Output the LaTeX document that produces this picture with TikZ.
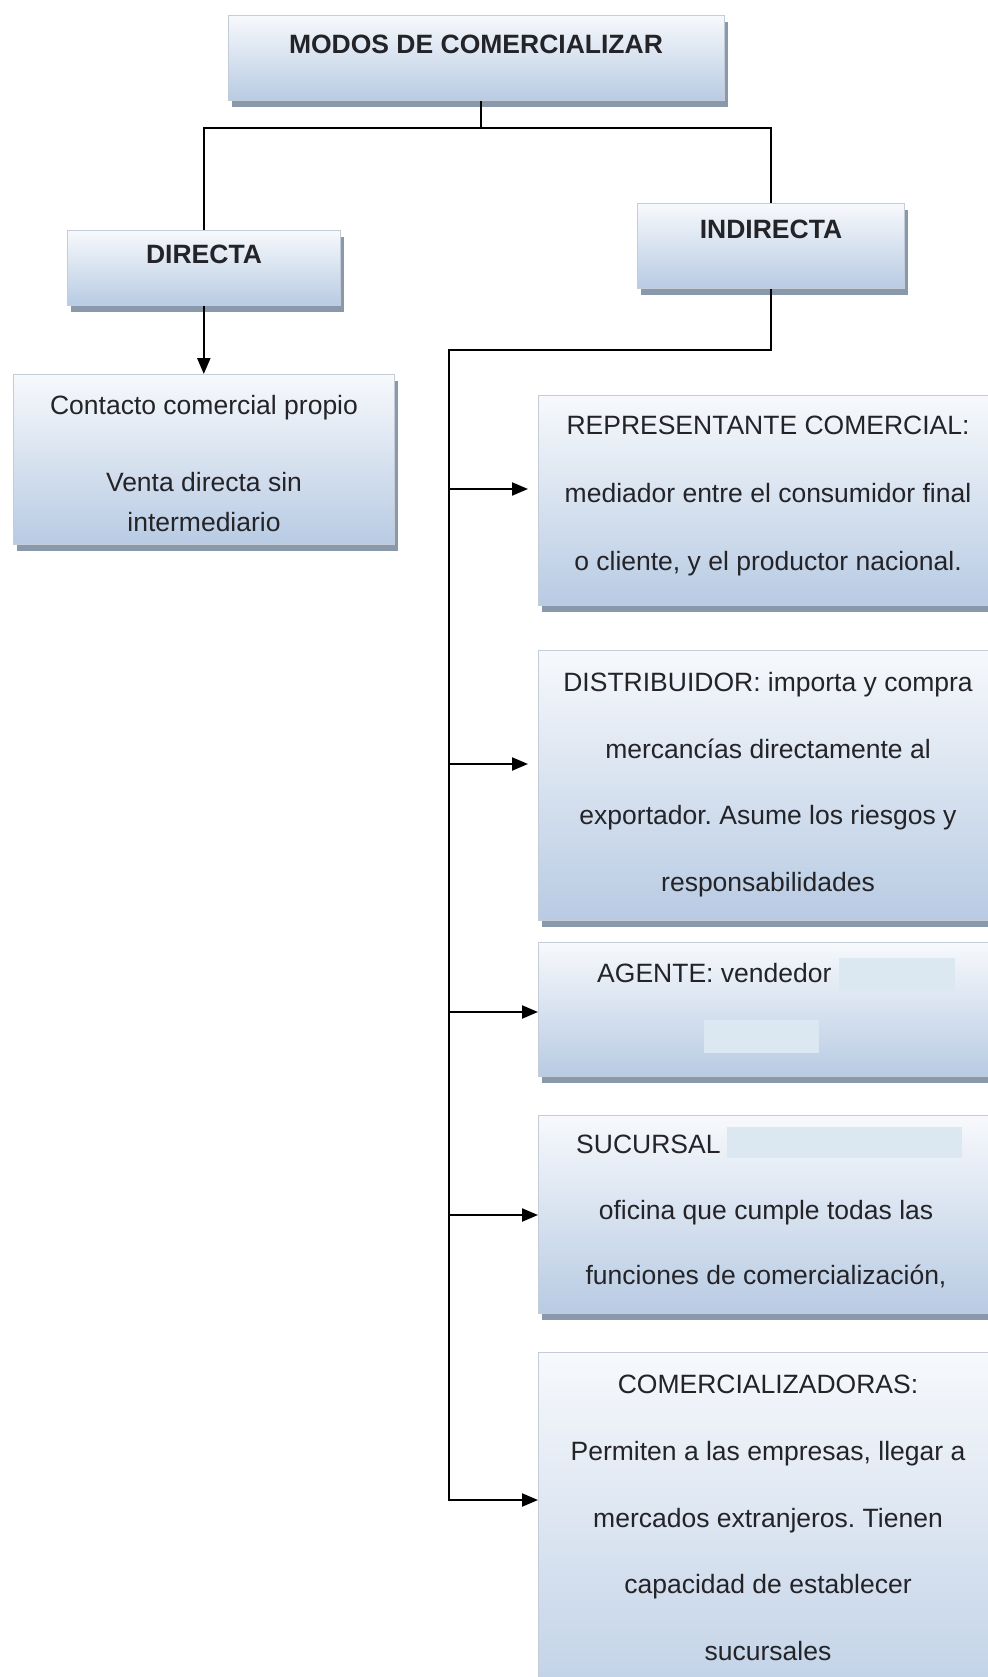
\documentclass[tikz,border=0pt]{standalone}
\usepackage{fontspec}
\setmainfont{Liberation Sans}
\usetikzlibrary{arrows.meta,shadows}

\definecolor{boxtop}{RGB}{247,249,252}
\definecolor{boxbot}{RGB}{184,203,227}
\definecolor{boxshadow}{RGB}{138,152,172}
\definecolor{boxedge}{RGB}{196,204,216}
\definecolor{veilcol}{RGB}{219,231,241}
\definecolor{ink}{RGB}{35,35,40}

\tikzset{
  panel/.style={rectangle, inner sep=0pt, anchor=north west,
    top color=boxtop, bottom color=boxbot, draw=boxedge, line width=0.6pt,
    general shadow={fill=boxshadow, shadow xshift=4pt, shadow yshift=-7pt}},
  caption/.style={inner sep=0pt, anchor=north, align=center, text=ink,
    font=\fontsize{26.5}{66.7}\selectfont},
  heading/.style={caption, font=\fontsize{26.5}{32}\selectfont\bfseries},
  link/.style={draw=black, line width=2.2pt},
  feed/.style={link, -{Triangle[length=16pt,width=13pt]}},
  veil/.style={rectangle, inner sep=0pt, anchor=north west, fill=veilcol, draw=none}
}

\begin{document}
\frenchspacing
\begin{tikzpicture}[x=1pt, y=-1pt]
  \useasboundingbox[fill=white] (0,0) rectangle (987,1677);

  % top level
  \node[panel, minimum width=496pt, minimum height=85pt] (modos) at (228,15) {};
  \node[heading] (modos-t) at (476,35) {MODOS DE COMERCIALIZAR};

  % the two modes
  \node[panel, minimum width=273pt, minimum height=75pt] (dirc) at (67,230) {};
  \node[heading] (dirc-t) at (204,245) {DIRECTA};
  \node[panel, minimum width=267pt, minimum height=85pt] (indc) at (637,203) {};
  \node[heading] (indc-t) at (771,220) {INDIRECTA};

  % direct sale
  \node[panel, minimum width=381pt, minimum height=170pt] (cont) at (13,374) {};
  \node[caption, font=\fontsize{26.5}{40}\selectfont] (cont-t) at (204,395)
    {Contacto comercial propio\\[37pt]Venta directa sin\\intermediario};

  % indirect channels
  \node[panel, minimum width=460pt, minimum height=210pt] (rep) at (538,395) {};
  \node[caption, font=\fontsize{26.5}{68}\selectfont] (rep-t) at (768,416)
    {REPRESENTANTE COMERCIAL:\\mediador entre el consumidor final\\o cliente, y el productor nacional.};

  \node[panel, minimum width=460pt, minimum height=270pt] (dist) at (538,650) {};
  \node[caption] (dist-t) at (768,672)
    {DISTRIBUIDOR: importa y compra\\mercancías directamente al\\exportador. Asume los riesgos y\\responsabilidades};

  \node[panel, minimum width=460pt, minimum height=134pt] (agen) at (538,942) {};
  \node[caption, anchor=north west] (agen-t) at (597,963) {AGENTE: vendedor};
  \node[veil, minimum width=116pt, minimum height=33pt] (agen-v1) at (839,958) {};
  \node[veil, minimum width=115pt, minimum height=33pt] (agen-v2) at (704,1020) {};

  \node[panel, minimum width=460pt, minimum height=198pt] (sucu) at (538,1115) {};
  \node[caption, anchor=north west] (sucu-t) at (576,1135) {SUCURSAL};
  \node[veil, minimum width=235pt, minimum height=31pt] (sucu-v) at (727,1127) {};
  \node[caption, font=\fontsize{26.5}{65}\selectfont] (sucu-d) at (766,1200)
    {oficina que cumple todas las\\funciones de comercialización,};

  \node[panel, minimum width=460pt, minimum height=400pt] (comm) at (538,1352) {};
  \node[caption] (comm-t) at (768,1375)
    {COMERCIALIZADORAS:\\Permiten a las empresas, llegar a\\mercados extranjeros. Tienen\\capacidad de establecer\\sucursales};

  % connectors
  \coordinate (split) at (481,128);
  \draw[link] (modos.south -| split) -- (split);
  \draw[link] (dirc.north) |- (split) -| (indc.north);
  \draw[feed] (dirc.south) -- (cont.north);

  \coordinate (elbow) at (449,350);
  \coordinate (b1) at (449,489);
  \coordinate (b2) at (449,764);
  \coordinate (b3) at (449,1012);
  \coordinate (b4) at (449,1215);
  \coordinate (b5) at (449,1500);
  \draw[feed] (indc.south) |- (elbow) -- (b5) -- (b5 -| comm.west);
  \draw[feed, shorten >=10pt] (b1) -- (b1 -| rep.west);
  \draw[feed, shorten >=10pt] (b2) -- (b2 -| dist.west);
  \draw[feed] (b3) -- (b3 -| agen.west);
  \draw[feed] (b4) -- (b4 -| sucu.west);
\end{tikzpicture}
\end{document}
